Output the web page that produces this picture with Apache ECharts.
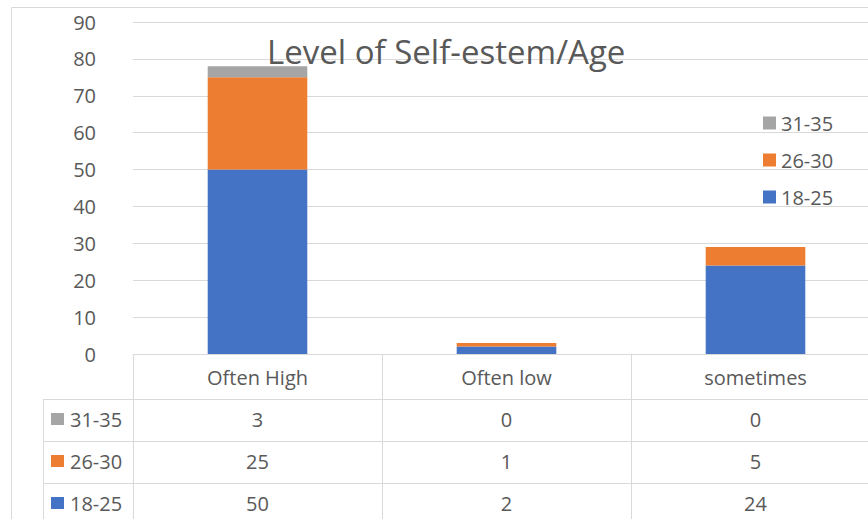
<!DOCTYPE html>
<html><head><meta charset="utf-8">
<script src="https://cdn.jsdelivr.net/npm/echarts@6/dist/echarts.min.js"></script>
<style>html,body{margin:0;padding:0;background:#fff}#c{width:868px;height:519px}</style>
</head><body><div id="c"></div>
<script>
const categories = ['Often High', 'Often low', 'sometimes'];
const age18_25 = [50, 2, 24];
const age26_30 = [25, 1, 5];
const age31_35 = [3, 0, 0];
const seriesNames = ['18-25', '26-30', '31-35'];
const seriesColors = ['#4472C4', '#ED7D31', '#A5A5A5'];
const yMin = 0, yMax = 90, yStep = 10;
const titleText = 'Level of Self-estem/Age';

const FONT = 'Open Sans';
const TXT = '#595959';
const LINE = '#d9d9d9';

const seriesData = [age18_25, age26_30, age31_35];

const chart = echarts.init(document.getElementById('c'), null, { renderer: 'svg' });
const option = {
  animation: false,
  backgroundColor: '#fff',
  title: {
    text: titleText,
    left: 267,
    top: 31,
    padding: 0,
    textStyle: { fontFamily: FONT, fontSize: 33, fontWeight: 'normal', color: TXT, lineHeight: 40 }
  },
  legend: {
    data: ['31-35', '26-30', '18-25'],
    orient: 'vertical',
    left: 763,
    top: 113,
    padding: 0,
    itemWidth: 13,
    itemHeight: 13,
    itemGap: 17,
    icon: 'rect',
    textStyle: { fontFamily: FONT, fontSize: 20, color: TXT, lineHeight: 20 }
  },
  grid: { left: 133, top: 22, width: 747, height: 332, containLabel: false, outerBoundsMode: 'none' },
  xAxis: {
    type: 'category',
    data: categories,
    axisLine: { lineStyle: { color: LINE, width: 1 } },
    axisTick: { show: true, length: 165, alignWithLabel: false, lineStyle: { color: LINE, width: 1 } },
    axisLabel: { fontFamily: FONT, fontSize: 20, color: TXT, margin: 13, lineHeight: 20 }
  },
  yAxis: {
    type: 'value',
    min: yMin, max: yMax, interval: yStep,
    axisLine: { show: false },
    axisTick: { show: false },
    axisLabel: { fontFamily: FONT, fontSize: 20, color: TXT, margin: 37 },
    splitLine: { lineStyle: { color: LINE, width: 1 } }
  },
  series: seriesNames.map((n, i) => ({
    name: n,
    type: 'bar',
    stack: 'total',
    barWidth: '40%',
    itemStyle: { color: seriesColors[i] },
    data: seriesData[i]
  }))
};
chart.setOption(option);

// Data table below the plot, positioned from the axis scales
const xs = categories.map(c => chart.convertToPixel({ xAxisIndex: 0 }, c));
const band = xs[1] - xs[0];
const y0 = chart.convertToPixel({ yAxisIndex: 0 }, 0);
const headerH = 45, rowH = 42, legendColX = 43;
const rightX = xs[xs.length - 1] + band / 2;
const tableRows = [2, 1, 0]; // 31-35, 26-30, 18-25
const g = [];
// outer chart border
g.push({ type: 'line', shape: { x1: 11.5, y1: 7.5, x2: 868, y2: 7.5 }, style: { stroke: LINE, lineWidth: 1 } });
g.push({ type: 'line', shape: { x1: 11.5, y1: 7.5, x2: 11.5, y2: 519 }, style: { stroke: LINE, lineWidth: 1 } });
// table horizontal lines
for (let i = 0; i <= tableRows.length; i++) {
  const y = Math.round(y0 + headerH + i * rowH) + 0.5;
  g.push({ type: 'line', shape: { x1: legendColX, y1: y, x2: rightX, y2: y }, style: { stroke: LINE, lineWidth: 1 } });
}
// legend column left border
g.push({ type: 'line', shape: { x1: legendColX + 0.5, y1: Math.round(y0 + headerH), x2: legendColX + 0.5, y2: 519 }, style: { stroke: LINE, lineWidth: 1 } });
tableRows.forEach((si, r) => {
  const cy = y0 + headerH + r * rowH + rowH / 2 - 1;
  g.push({ type: 'rect', shape: { x: 51, y: cy - 6, width: 13, height: 12 }, style: { fill: seriesColors[si] } });
  g.push({ type: 'text', x: 70, y: cy, style: { text: seriesNames[si], fill: TXT, font: '20px "' + FONT + '"', verticalAlign: 'middle', align: 'left' } });
  seriesData[si].forEach((v, j) => {
    g.push({ type: 'text', x: xs[j], y: cy, style: { text: String(v), fill: TXT, font: '20px "' + FONT + '"', verticalAlign: 'middle', align: 'center' } });
  });
});
chart.setOption({ graphic: { elements: g } });
</script>
</body></html>
